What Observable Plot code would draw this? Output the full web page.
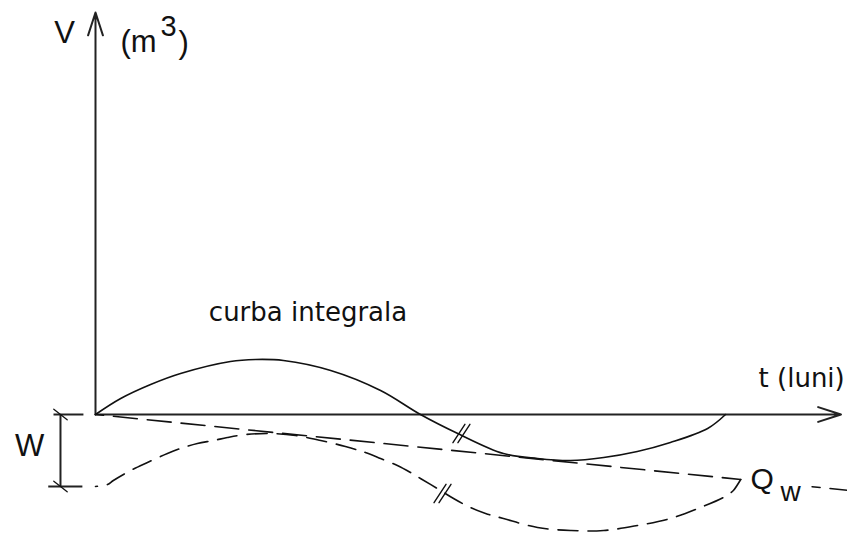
<!DOCTYPE html>
<html><head><meta charset="utf-8">
<script src="https://cdn.jsdelivr.net/npm/d3@7"></script>
<script src="https://cdn.jsdelivr.net/npm/@observablehq/plot@0.6"></script>
<style>html,body{margin:0;padding:0;background:#fff;}</style>
</head><body><div id="chart"></div>
<script>
// Integral curve V(t) (solid)
const curveT = [0, 0.48, 1.05, 1.62, 2.57, 3.05, 3.58, 4.48, 5.43, 6.19, 6.9, 7.77, 8.42, 9.05, 9.68, 10.32, 10.95, 11.66, 12];
const curveV = [0, 1.6, 3.0, 4.1, 5.3, 5.5, 5.4, 4.4, 2.4, 0, -1.9, -3.9, -4.4, -4.6, -4.3, -3.7, -2.8, -1.4, 0];
// Shifted integral curve (dashed, lower)
const shiftedT = [0, 0.23, 0.34, 0.67, 0.99, 1.37, 1.62, 1.94, 2.25, 2.51, 2.86, 3.33, 3.81, 4.29, 4.76, 5.14, 5.43, 5.75, 6.0, 6.19, 6.51, 6.82, 7.14, 7.43, 7.77, 8.42, 9.05, 9.68, 10.32, 10.95, 11.52, 11.96, 12.15, 12.29];
const shiftedV = [-7.2, -7.0, -6.6, -5.6, -4.8, -3.9, -3.4, -2.9, -2.6, -2.3, -2.0, -1.9, -2.1, -2.6, -3.2, -3.8, -4.4, -5.1, -5.8, -6.4, -7.4, -8.4, -9.3, -9.9, -10.4, -11.3, -11.6, -11.6, -11.1, -10.4, -9.3, -8.3, -7.6, -6.5];
// Straight demand line toward Qw (dashed), with a gap at the label
const qwT = [0, 12.29, NaN, 13.65, 14.33];
const qwV = [0, -6.5, NaN, -7.22, -7.58];
// Reserve volume W
const W = 7.2;
const bracketT = -0.667;
// Axis extents
const axisXEnd = 14.2;
const axisYEnd = 40.2;
// Break marks "//"
const breakT = [6.97, 6.61];
const breakV = [-1.9, -7.9];
// Labels
const sansText = ["V", "(m", "3", ")", "W", "Q", "w"];
const sansT = [-0.59, 0.476, 1.238, 1.581, -1.257, 12.476, 13.048];
const sansV = [37.2, 36.3, 37.9, 36.2, -4.1, -7.4, -8.6];
const sansSize = [31, 31, 29, 31, 31, 30, 28];
const sansAnchor = ["middle", "start", "start", "start", "middle", "start", "start"];
const djText = ["curba integrala", "t (luni)"];
const djT = [4.048, 12.63];
const djV = [9.4, 2.8];
const djAnchor = ["middle", "start"];

const curve = curveT.map((t, i) => ({t, v: curveV[i]}));
const shifted = shiftedT.map((t, i) => ({t, v: shiftedV[i]}));
const qw = qwT.map((t, i) => ({t, v: qwV[i]}));
const axes = [{x1: 0, y1: 0, x2: axisXEnd, y2: 0}, {x1: 0, y1: 0, x2: 0, y2: axisYEnd}];
const bracket = [
  {x1: bracketT, y1: 0, x2: bracketT, y2: -W},
  {x1: -0.8, y1: 0, x2: -0.23, y2: 0},
  {x1: -0.9, y1: -W, x2: -0.25, y2: -W}
];
const bracketEnds = [{t: bracketT, v: 0}, {t: bracketT, v: -W}];
const breaks = breakT.map((t, i) => ({t, v: breakV[i]}));
const sansLabels = sansText.map((s, i) => ({s, t: sansT[i], v: sansV[i], size: sansSize[i], a: sansAnchor[i]}));
const djLabels = djText.map((s, i) => ({s, t: djT[i], v: djV[i], a: djAnchor[i]}));

const lineShape = {draw(ctx, l) { ctx.moveTo(0, 0); ctx.lineTo(0, -l); }};
const ink = "#111";

function labelMarks(data, family, size) {
  return ["start", "middle"].map(a => Plot.text(data.filter(d => d.a === a), {
    x: "t", y: "v", text: "s", fontSize: size, fontFamily: family,
    textAnchor: a, lineAnchor: "bottom", fill: ink
  }));
}

const chart = Plot.plot({
  width: 847, height: 537,
  marginTop: 0, marginRight: 0, marginBottom: 0, marginLeft: 0,
  style: {background: "white"},
  x: {domain: [0, 12], range: [95, 725], axis: null},
  y: {domain: [0, 10], range: [414, 314], axis: null},
  marks: [
    Plot.arrow(axes, {x1: "x1", y1: "y1", x2: "x2", y2: "y2", stroke: "#222", strokeWidth: 2, headLength: 18, headAngle: 36}),
    Plot.link(bracket, {x1: "x1", y1: "y1", x2: "x2", y2: "y2", stroke: "#222", strokeWidth: 2}),
    Plot.vector(bracketEnds, {x: "t", y: "v", length: 17, rotate: -52, anchor: "middle", shape: lineShape, stroke: ink, strokeWidth: 1.3}),
    Plot.line(curve, {x: "t", y: "v", curve: "catmull-rom", stroke: ink, strokeWidth: 1.6}),
    Plot.line(qw, {x: "t", y: "v", stroke: ink, strokeWidth: 1.6, strokeDasharray: "24,10", strokeDashoffset: 16}),
    Plot.line(shifted, {x: "t", y: "v", curve: "catmull-rom", stroke: ink, strokeWidth: 1.6, strokeDasharray: "20,10", strokeDashoffset: 18}),
    Plot.vector(breaks, {x: "t", y: "v", length: 22, rotate: 33, anchor: "middle", shape: lineShape, stroke: ink, strokeWidth: 1.4, dx: -2.5}),
    Plot.vector(breaks, {x: "t", y: "v", length: 22, rotate: 33, anchor: "middle", shape: lineShape, stroke: ink, strokeWidth: 1.4, dx: 2.5}),
    ...["start", "middle"].map(a => Plot.text(sansLabels.filter(d => d.a === a), {
      x: "t", y: "v", text: "s", fontSize: "size", fontFamily: "Liberation Sans",
      textAnchor: a, lineAnchor: "bottom", fill: ink
    })),
    ...labelMarks(djLabels, "DejaVu Sans", 26)
  ]
});
document.getElementById("chart").appendChild(chart);
</script>
</body></html>
